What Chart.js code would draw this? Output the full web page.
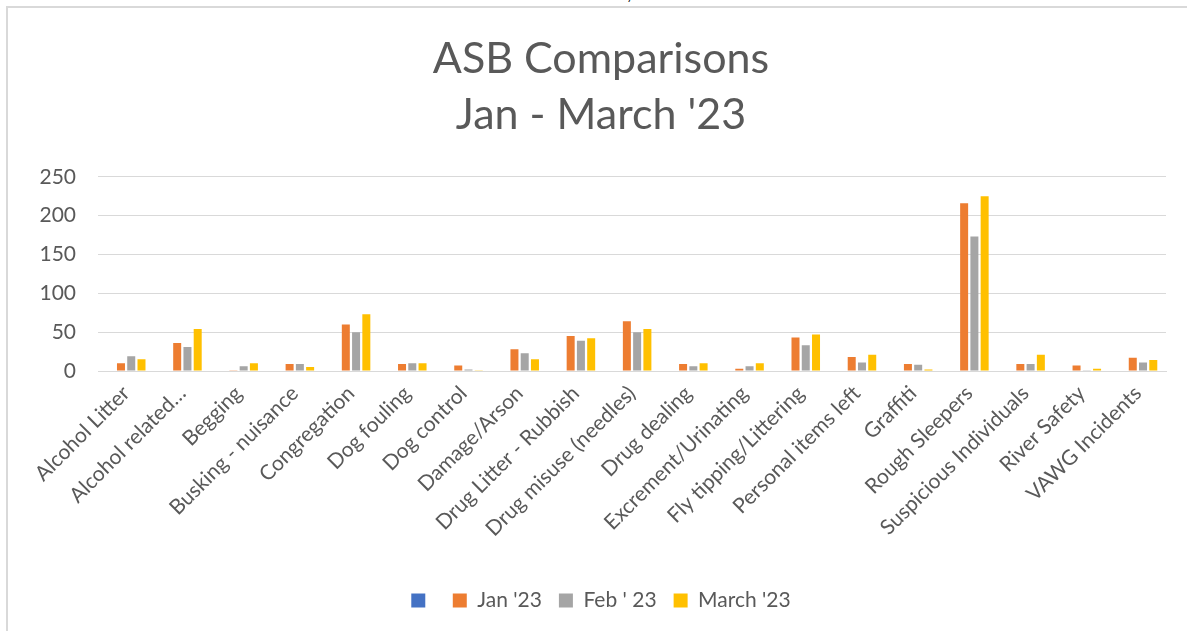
<!DOCTYPE html>
<html>
<head>
<meta charset="utf-8">
<script src="https://cdn.jsdelivr.net/npm/chart.js@4"></script>
<style>
  html, body { margin: 0; padding: 0; background: #fff; }
  #wrap { position: relative; width: 1187px; height: 631px; overflow: hidden; }
  #frame { position: absolute; left: 6px; top: 6px; width: 1200px; height: 700px;
           border-left: 2px solid #d9d9d9; border-top: 2px solid #d9d9d9; box-sizing: border-box; }
  #slash { position: absolute; left: 629px; top: -9px; font: italic 12px "Liberation Sans"; color: #000; }
  canvas { position: absolute; left: 0; top: 0; }
</style>
</head>
<body>
<div id="wrap">
  <div id="frame"></div>
  <div id="slash">/</div>
  <canvas id="c" width="1187" height="631"></canvas>
</div>
<script>
const categories = ["Alcohol Litter", "Alcohol related\u2026", "Begging", "Busking - nuisance", "Congregation",
  "Dog fouling", "Dog control", "Damage/Arson", "Drug Litter - Rubbish", "Drug misuse (needles)",
  "Drug dealing", "Excrement/Urinating", "Fly tipping/Littering", "Personal items left", "Graffiti",
  "Rough Sleepers", "Suspicious Individuals", "River Safety", "VAWG Incidents"];
const blankSeries = categories.map(() => null);
const jan23   = [10, 36, 1, 9, 60, 9, 7, 28, 45, 64, 9, 3, 43, 18, 9, 216, 9, 7, 17];
const feb23   = [19, 31, 6, 9, 50, 10, 2, 23, 39, 50, 6, 6, 33, 11, 8, 173, 9, 1, 11];
const march23 = [15, 54, 10, 5, 73, 10, 1, 15, 42, 54, 10, 10, 47, 21, 2, 225, 21, 3, 14];
const yTicks = [0, 50, 100, 150, 200, 250];
const titleLines = ["ASB Comparisons", "Jan - March '23"];

const FONT = "Lato, 'Open Sans', 'Liberation Sans', sans-serif";
const TXT = "#595959";

new Chart(document.getElementById("c"), {
  type: "bar",
  data: {
    labels: categories,
    datasets: [
      { label: "", data: blankSeries, backgroundColor: "#4472C4" },
      { label: "Jan '23", data: jan23, backgroundColor: "#ED7D31" },
      { label: "Feb ' 23", data: feb23, backgroundColor: "#A5A5A5" },
      { label: "March '23", data: march23, backgroundColor: "#FFC000" }
    ]
  },
  options: {
    responsive: false,
    animation: false,
    devicePixelRatio: 1,
    categoryPercentage: 0.73,
    barPercentage: 0.78,
    layout: { padding: { left: 36, right: 21, top: 0, bottom: 10 } },
    plugins: {
      title: {
        display: true,
        text: titleLines,
        color: TXT,
        font: { family: FONT, size: 43, weight: "normal", lineHeight: 1.3 },
        padding: { top: 31, bottom: 34 }
      },
      legend: {
        position: "bottom",
        labels: {
          color: TXT,
          font: { family: FONT, size: 21 },
          boxWidth: 14,
          boxHeight: 14,
          padding: 17
        }
      },
      tooltip: { enabled: false }
    },
    scales: {
      x: {
        grid: { display: false, drawTicks: false },
        border: { display: true, color: "#d9d9d9", width: 1 },
        ticks: {
          color: TXT,
          font: { family: FONT, size: 21 },
          maxRotation: 45,
          minRotation: 45,
          autoSkip: false,
          padding: 10
        },
        afterFit: (s) => { s.height = 202; }
      },
      y: {
        min: 0,
        max: 250,
        afterBuildTicks: (s) => { s.ticks = yTicks.map(v => ({ value: v })); },
        grid: { color: "#d9d9d9", lineWidth: 1, drawTicks: false },
        border: { display: false },
        ticks: {
          color: TXT,
          font: { family: FONT, size: 21 },
          padding: 22
        },
        afterFit: (s) => { s.width = 62; }
      }
    }
  }
});
</script>
</body>
</html>
